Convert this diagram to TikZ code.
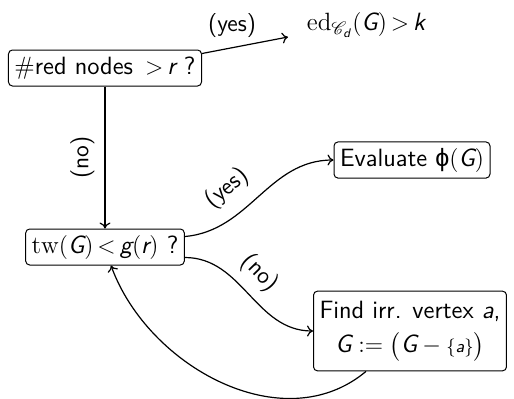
\documentclass[tikz,border=0pt]{standalone}
\usepackage{amsmath}
\usepackage{mathrsfs}
\usepackage{fontspec}
\newfontfamily\grkfont{Liberation Sans}
\usetikzlibrary{arrows.meta}
\newcommand{\vv}[1]{\textit{#1}}
\newcommand{\rel}[1]{\mskip3mu{#1}\mskip3mu}
\tikzset{
  box/.style={draw, rounded corners=2pt, line width=0.5pt, inner xsep=3pt, inner ysep=3pt, minimum height=18pt},
  conn/.style={-{To[length=3pt,width=5.5pt]}, line width=0.6pt},
  lbl/.style={font=\fontsize{12}{14}\selectfont\sffamily, inner sep=1pt}
}
\begin{document}
\begin{tikzpicture}[x=0.5pt,y=-0.5pt,font=\fontsize{12.5}{15}\selectfont\sffamily]
\useasboundingbox (0,0) rectangle (514,398);
\node[box] (b1) at (105,68) {$\#$red nodes $\rel{>}\vv{r}$\ ?};
\node[inner sep=1pt] (ed) at (366,25) {$\mathrm{ed}_{\mathscr{C}_{\vv{d}}}(\vv{G})\rel{>}\vv{k}$};
\node[box] (b2) at (105,247) {$\mathrm{tw}(\vv{G})\rel{<}\vv{g}(\vv{r})$\ ?};
\node[box] (b3) at (412,160) {Evaluate {\grkfont\char"03D5}$(\vv{G})$};
\node[box, align=center, inner ysep=5pt] (b4) at (410,331) {Find irr. vertex \vv{a},\\[2pt] $\vv{G}:=\bigl(\vv{G}-{\scriptstyle\{\vv{a}\}}\bigr)$};
\coordinate (e1) at (288,37);
\draw[conn] ([yshift=-2pt]b1.north east) -- node[lbl, above=4pt, pos=0.35] {(yes)} (e1);
\draw[conn] (b1.south) -- node[lbl, rotate=90, above=4pt] {(no)} (b2.north);
\draw[conn] ([yshift=-4pt]b2.north east) to[out=5,in=180] node[lbl, sloped, above=6pt, pos=0.38] {(yes)} (b3.west);
\draw[conn] ([yshift=4pt]b2.south east) to[out=0,in=180] node[lbl, sloped, above=4pt, pos=0.45] {(no)} (b4.west);
\draw[conn] ([xshift=-22pt]b4.south) to[out=-140,in=-70] ([xshift=3pt]b2.south);
\end{tikzpicture}
\end{document}
